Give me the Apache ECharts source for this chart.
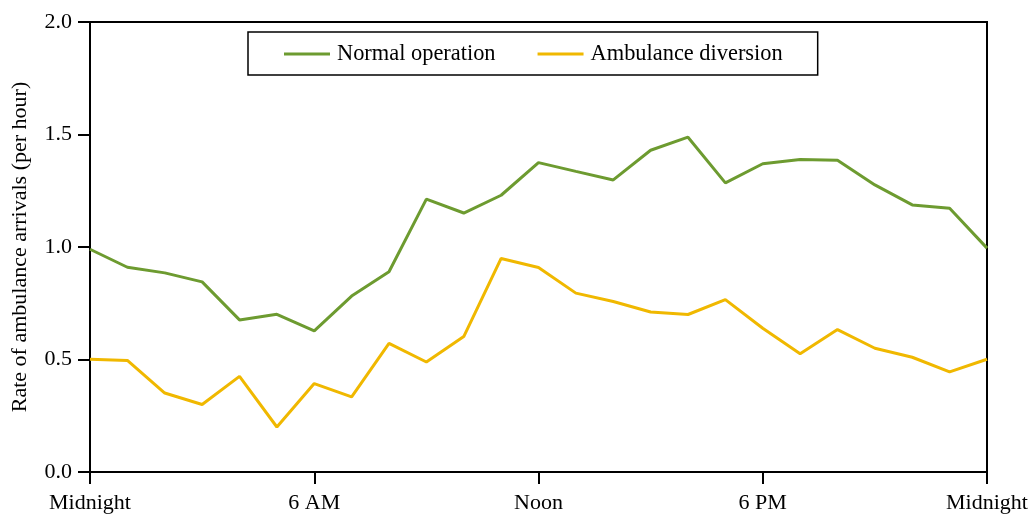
<!DOCTYPE html>
<html>
<head>
<meta charset="utf-8">
<script src="https://cdn.jsdelivr.net/npm/echarts@6/dist/echarts.min.js"></script>
<style>
  html, body { margin: 0; padding: 0; background: #fff; }
  #chart { width: 1032px; height: 514px; }
</style>
</head>
<body>
<div id="chart"></div>
<script>
// Hour of day, 0 = midnight through 24 = next midnight
const hours = [0,1,2,3,4,5,6,7,8,9,10,11,12,13,14,15,16,17,18,19,20,21,22,23,24];

// Hourly ambulance arrival rates (per hour)
const normalOperation = [0.99,0.91,0.885,0.845,0.676,0.701,0.627,0.782,0.89,1.213,1.151,1.23,1.375,1.336,1.298,1.43,1.488,1.285,1.37,1.389,1.386,1.276,1.187,1.172,0.995];
const ambulanceDiversion = [0.501,0.496,0.351,0.3,0.425,0.2,0.393,0.334,0.572,0.489,0.602,0.949,0.909,0.795,0.758,0.711,0.7,0.766,0.639,0.526,0.633,0.55,0.51,0.445,0.501];

// Labels placed every six hours along the time axis
const timeTickLabels = ['Midnight', '6 AM', 'Noon', '6 PM', 'Midnight'];

const seriesNames = ['Normal operation', 'Ambulance diversion'];
const seriesColors = ['#6d9b30', '#f0b800'];

const FONT = '"Liberation Serif", "Times New Roman", serif';
const toPairs = (vals) => hours.map((h, i) => [h, vals[i]]);

const chart = echarts.init(document.getElementById('chart'), null, { renderer: 'canvas' });

chart.setOption({
  animation: false,
  backgroundColor: '#ffffff',
  textStyle: { fontFamily: FONT, color: '#000' },
  grid: {
    left: 90, right: 45, top: 22, bottom: 42,
    show: true, borderColor: '#000', borderWidth: 2, backgroundColor: 'transparent'
  },
  legend: {
    left: 248, top: 32,
    orient: 'horizontal',
    padding: [11, 35, 10, 36],
    borderColor: '#000', borderWidth: 1.5,
    backgroundColor: '#fff',
    itemWidth: 46, itemHeight: 3, itemGap: 42,
    icon: 'rect',
    textStyle: { fontFamily: FONT, fontSize: 22.4, color: '#000', padding: [3, 0, 0, 2] },
    data: seriesNames
  },
  xAxis: {
    type: 'value',
    min: 0, max: 24, interval: 6,
    axisLine: { show: true, lineStyle: { color: '#000', width: 2 } },
    axisTick: { show: true, length: 12, lineStyle: { color: '#000', width: 2 } },
    axisLabel: {
      margin: 20, fontFamily: FONT, fontSize: 22, color: '#000',
      formatter: (v) => timeTickLabels[Math.round(v / 6)]
    },
    splitLine: { show: false }
  },
  yAxis: {
    type: 'value',
    min: 0, max: 2, interval: 0.5,
    name: 'Rate of ambulance arrivals (per hour)',
    nameLocation: 'middle',
    nameGap: 59,
    nameTextStyle: { fontFamily: FONT, fontSize: 22, color: '#000' },
    axisLine: { show: true, lineStyle: { color: '#000', width: 2 } },
    axisTick: { show: true, length: 12, lineStyle: { color: '#000', width: 2 } },
    axisLabel: {
      margin: 18, fontFamily: FONT, fontSize: 22, color: '#000',
      formatter: (v) => v.toFixed(1)
    },
    splitLine: { show: false }
  },
  series: [
    {
      name: seriesNames[0], type: 'line', data: toPairs(normalOperation),
      symbol: 'none', color: seriesColors[0],
      lineStyle: { width: 3, color: seriesColors[0] }
    },
    {
      name: seriesNames[1], type: 'line', data: toPairs(ambulanceDiversion),
      symbol: 'none', color: seriesColors[1],
      lineStyle: { width: 3, color: seriesColors[1] }
    }
  ]
});
</script>
</body>
</html>
